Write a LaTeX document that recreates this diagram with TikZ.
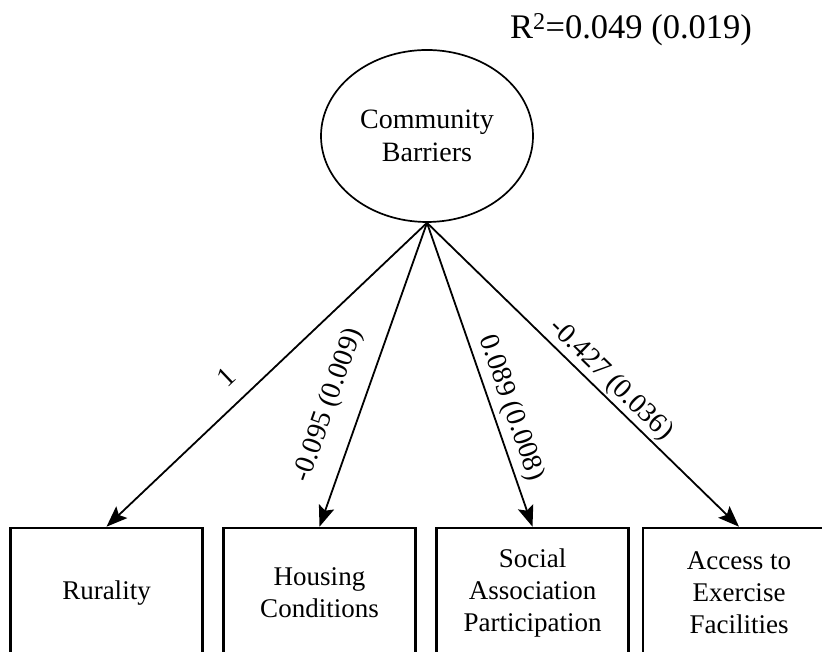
\documentclass[tikz,border=0pt]{standalone}
\usepackage{fontspec}
\setmainfont{Liberation Serif}
\usetikzlibrary{arrows.meta,shapes.geometric}
\begin{document}
\begin{tikzpicture}[x=1pt,y=1pt,
  latent/.style={draw,line width=1.7pt,ellipse,minimum width=212pt,minimum height=172pt,
    align=center,font=\fontsize{28}{33}\selectfont,inner sep=0pt},
  observed/.style={draw,line width=2.6pt,rectangle,minimum width=192pt,minimum height=130pt,
    align=center,font=\fontsize{27}{32}\selectfont,inner sep=0pt},
  loading/.style={line width=1.8pt,-{Stealth[length=21pt,width=16pt,inset=4pt]}},
  coef/.style={sloped,font=\fontsize{28}{33}\selectfont,inner sep=2pt}]
\useasboundingbox (0,0) rectangle (822,652);
\clip (0,0) rectangle (822,652);
\fill[white] (0,0) rectangle (822,652);

% latent factor and its explained variance
\node[latent] (cb) at (427,516) {Community\\Barriers};
\node[anchor=base,font=\fontsize{34.5}{40}\selectfont] (r2) at (631,613)
  {R\textsuperscript{2}=0.049 (0.019)};

% observed indicators
\node[observed] (rur) at (106.5,59) {Rurality};
\node[observed] (hou) at (319.5,59) {Housing\\Conditions};
\node[observed] (soc) at (532.5,59) {Social\\Association\\Participation};
\node[observed] (acc) at (739,59) {Access to\\Exercise\\Facilities};

% factor loadings
\draw[loading] (cb.south) -- node[coef,pos=0.57,above=14pt] {1} (rur.north);
\draw[loading] (cb.south) -- node[coef,pos=0.636,above=16pt] {-0.095 (0.009)} (hou.north);
\draw[loading] (cb.south) -- node[coef,pos=0.63,above=3pt] {0.089 (0.008)} (soc.north);
\draw[loading] (cb.south) -- node[coef,pos=0.554,above=0pt] {-0.427 (0.036)} (acc.north);
\end{tikzpicture}
\end{document}
